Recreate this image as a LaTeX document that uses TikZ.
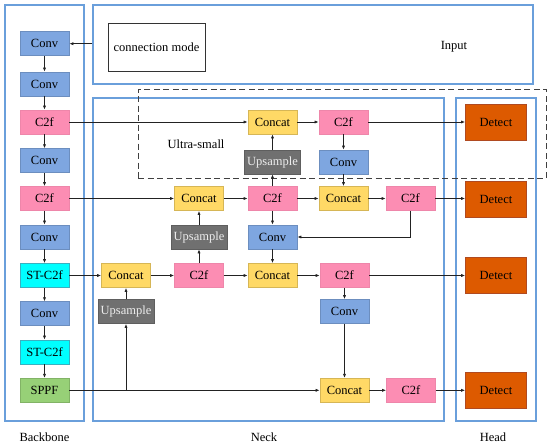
\documentclass[tikz,border=0pt]{standalone}
\usepackage{fontspec}
\setmainfont{Liberation Serif}
\usetikzlibrary{arrows.meta}
\definecolor{convF}{HTML}{7EA6E0}\definecolor{convD}{HTML}{6C8EBF}
\definecolor{c2fF}{HTML}{FC8DB3}\definecolor{c2fD}{HTML}{EE86AA}
\definecolor{catF}{HTML}{FFD966}\definecolor{catD}{HTML}{D6B656}
\definecolor{upF}{HTML}{707070}\definecolor{upD}{HTML}{5E5E5E}
\definecolor{stF}{HTML}{00FFFF}\definecolor{stD}{HTML}{3AB0C0}
\definecolor{spF}{HTML}{97D077}\definecolor{spD}{HTML}{82B366}
\definecolor{detF}{HTML}{DD5A00}\definecolor{detD}{HTML}{B04A20}
\definecolor{boxD}{HTML}{6A9FDB}
\definecolor{lineC}{HTML}{222222}
\tikzset{
  blk/.style={rectangle, inner sep=0pt, line width=0.8pt, minimum height=24pt, minimum width=49pt, font=\fontsize{12.5}{15}\selectfont},
  conv/.style={blk, fill=convF, draw=convD},
  cff/.style={blk, fill=c2fF, draw=c2fD},
  cat/.style={blk, fill=catF, draw=catD},
  ups/.style={blk, fill=upF, draw=upD, text=white!93!black, minimum width=56pt},
  stc/.style={blk, fill=stF, draw=stD},
  spp/.style={blk, fill=spF, draw=spD},
  det/.style={blk, fill=detF, draw=detD, minimum width=61pt, minimum height=36pt},
  cont/.style={rectangle, draw=boxD, line width=1.2pt, inner sep=0pt},
  lbl/.style={font=\fontsize{12.5}{15}\selectfont, inner sep=0pt},
  arr/.style={draw=lineC, line width=0.7pt, -{Latex[length=4pt,width=3.2pt]}},
  ln/.style={draw=lineC, line width=0.7pt}
}
\begin{document}
\begin{tikzpicture}[x=1pt,y=-1pt]
\useasboundingbox (0,0) rectangle (550,447);
% containers
\node[cont, minimum width=79pt, minimum height=416pt] (backbone) at (44.5,213) {};
\node[cont, minimum width=440pt, minimum height=79pt] (inputbox) at (313,44.5) {};
\node[cont, minimum width=351pt, minimum height=323pt] (neck) at (268.5,259.5) {};
\node[cont, minimum width=80pt, minimum height=323pt] (head) at (496,259.5) {};
\node[rectangle, draw=black!75, dashed, dash pattern=on 6pt off 3.5pt, line width=1pt, minimum width=408pt, minimum height=89pt, inner sep=0pt] (ultra) at (342,133.5) {};
% texts
\node[rectangle, draw=black!80, line width=0.8pt, minimum width=97pt, minimum height=48pt, inner sep=0pt, font=\fontsize{12.5}{15}\selectfont] (cmode) at (156.5,47) {connection mode};
\node[lbl] (inputlbl) at (454,47) {Input};
\node[lbl] (ultralbl) at (196,144) {Ultra-small};
\node[lbl] (bblbl) at (44.5,437.5) {Backbone};
\node[lbl] (necklbl) at (264,437.5) {Neck};
\node[lbl] (headlbl) at (493,437.5) {Head};
% backbone
\node[conv] (b1) at (44.5,43.7) {Conv};
\node[conv] (b2) at (44.5,84) {Conv};
\node[cff]  (b3) at (44.5,122) {C2f};
\node[conv] (b4) at (44.5,160.7) {Conv};
\node[cff]  (b5) at (44.5,198.5) {C2f};
\node[conv] (b6) at (44.5,237) {Conv};
\node[stc]  (b7) at (44.5,275.5) {ST-C2f};
\node[conv] (b8) at (44.5,313.7) {Conv};
\node[stc]  (b9) at (44.5,352) {ST-C2f};
\node[spp]  (b10) at (44.5,390.3) {SPPF};
% neck
\node[cat]  (ct1) at (272.5,122) {Concat};
\node[cff]  (cf1) at (343.5,122) {C2f};
\node[det]  (d1)  at (496,122) {Detect};
\node[ups]  (up1) at (272.5,162) {Upsample};
\node[conv] (cv1) at (343.5,162) {Conv};
\node[cat]  (ct2) at (199,198.5) {Concat};
\node[cff]  (cf2) at (272.5,198.5) {C2f};
\node[cat]  (ct3) at (343.5,198.5) {Concat};
\node[cff]  (cf3) at (410.5,198.5) {C2f};
\node[det]  (d2)  at (496,199) {Detect};
\node[ups]  (up2) at (199,237) {Upsample};
\node[conv] (cv2) at (272.5,237) {Conv};
\node[cat]  (ct4) at (126,275.5) {Concat};
\node[cff]  (cf4) at (199,275.5) {C2f};
\node[cat]  (ct5) at (272.5,275.5) {Concat};
\node[cff]  (cf5) at (344.5,275.5) {C2f};
\node[det]  (d3)  at (496,275.5) {Detect};
\node[ups]  (up3) at (126,311.5) {Upsample};
\node[conv] (cv3) at (344.5,311.5) {Conv};
\node[cat]  (ct6) at (344.5,390.3) {Concat};
\node[cff]  (cf6) at (411,390.3) {C2f};
\node[det]  (d4)  at (496,390.3) {Detect};
\coordinate (br) at (126,390.3);
% connectors
\draw[arr] (inputbox.west |- b1) -- (b1.east);
\foreach \a/\b in {b1/b2,b2/b3,b3/b4,b4/b5,b5/b6,b6/b7,b7/b8,b8/b9,b9/b10}
  \draw[arr] (\a.south) -- (\b.north);
\draw[arr] (b3.east) -- (ct1.west);
\draw[arr] (up1.north) -- (ct1.south);
\draw[arr] (ct1.east) -- (cf1.west);
\draw[arr] (cf1.east) -- (d1.west);
\draw[arr] (cf1.south) -- (cv1.north);
\draw[arr] (cv1.south) -- (ct3.north);
\draw[arr] (cf2.north) -- (up1.south);
\draw[arr] (b5.east) -- (ct2.west);
\draw[arr] (ct2.east) -- (cf2.west);
\draw[arr] (cf2.east) -- (ct3.west);
\draw[arr] (ct3.east) -- (cf3.west);
\draw[arr] (cf3.east) -- (d2.west |- cf3);
\draw[arr] (cf3.south) |- (cv2.east);
\draw[arr] (cf2.south) -- (cv2.north);
\draw[arr] (cv2.south) -- (ct5.north);
\draw[arr] (up2.north) -- (ct2.south);
\draw[arr] (cf4.north) -- (up2.south);
\draw[arr] (b7.east) -- (ct4.west);
\draw[arr] (up3.north) -- (ct4.south);
\draw[arr] (ct4.east) -- (cf4.west);
\draw[arr] (cf4.east) -- (ct5.west);
\draw[arr] (ct5.east) -- (cf5.west);
\draw[arr] (cf5.east) -- (d3.west);
\draw[arr] (cf5.south) -- (cv3.north);
\draw[arr] (cv3.south) -- (ct6.north);
\draw[arr] (b10.east) -- (ct6.west);
\draw[arr] (br) -- (up3.south);
\draw[arr] (ct6.east) -- (cf6.west);
\draw[arr] (cf6.east) -- (d4.west);
\end{tikzpicture}
\end{document}
